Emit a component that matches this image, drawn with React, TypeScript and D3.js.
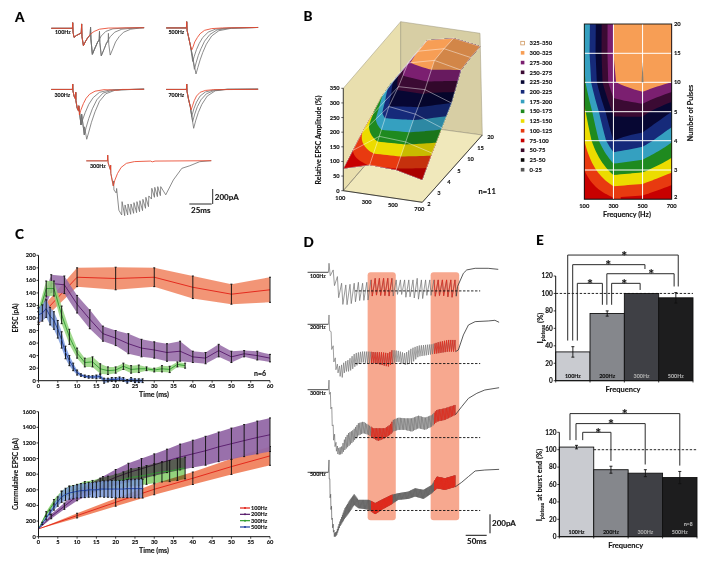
import React from "react";
import * as d3 from "d3";

type P = [number, number];
const FONT = "Lato, 'Open Sans', sans-serif";

// ---------- Panel A: currents (ms, pA) ----------
const a100Base: P[] = [[-24,-8],[-0.3,-8],[0,67],[0.4,-60],[1.5,-129],[4,-105],[9.6,-70],[10,50],[10.4,-120],[12,-240]];
const a100Red: P[] = [...a100Base,[14,-190],[17,-130],[20,-85],[24,-50],[30,-20],[40,-5],[80,0]];
const a100G1: P[] = [...a100Base,[14,-190],[17,-130],[19.6,-100],[20,5],[20.4,-150],[22,-355]];
const a100G1End: P[] = [[25,-270],[28,-190],[32,-110],[37,-50],[45,-15],[60,-3],[80,0]];
const a100G2End: P[] = [[25,-270],[28,-190],[29.6,-170],[30,-50],[30.4,-200],[32,-375]];
const a100G2Tail: P[] = [[35,-290],[38,-200],[42,-120],[47,-60],[55,-20],[70,-3],[80,0]];
const a100G3End: P[] = [[35,-290],[38,-200],[39.6,-190],[40,-75],[40.4,-220],[42,-365],[45,-280],[48,-190],[52,-120],[57,-60],[65,-20],[75,-5],[80,0]];
const a100Traces: P[][] = [
  [...a100G1,...a100G2End,...a100G3End],
  [...a100G1,...a100G2End,...a100G2Tail],
  [...a100G1,...a100G1End],
];

const a500Base: P[] = [[-23,-3],[-0.3,-3],[0,80],[0.5,-40],[2,-120],[4,-230]];
const a500Traces: P[][] = [
  [...a500Base,[6,-350],[10.4,-617],[12.5,-530],[15,-430],[18,-330],[22,-220],[28,-110],[36,-40],[50,-8],[80,3]],
  [...a500Base,[6,-350],[8.6,-555],[10.5,-470],[13,-370],[16,-280],[20,-180],[26,-90],[34,-30],[48,-5],[80,3]],
  [...a500Base,[6.7,-450],[8.5,-380],[11,-290],[14,-210],[18,-130],[24,-60],[32,-20],[45,-5],[80,3]],
];
const a500Red: P[] = [...a500Base,[5.6,-297],[7,-260],[9,-190],[12,-130],[15,-80],[20,-35],[28,-12],[40,-3],[80,3]];

const a300Base: P[] = [[-24,-2],[-0.3,-2],[0,70],[0.3,-20],[1.5,-90],[3.2,-130],[3.4,-40],[3.6,-150],[5,-250],[6.6,-290],[6.8,-220]];
const a300Traces: P[][] = [
  [...a300Base,[9.3,-475],[9.9,-400],[10,-330],[13,-608],[13.2,-500],[15.7,-666],[18,-570],[21,-440],[25,-300],[30,-160],[37,-60],[48,-10],[80,3]],
  [...a300Base,[9.3,-475],[9.9,-400],[10,-330],[13,-608],[15,-510],[18,-390],[22,-260],[27,-140],[34,-50],[46,-8],[80,2]],
  [...a300Base,[9.3,-475],[11,-410],[14,-310],[18,-200],[23,-110],[30,-40],[42,-8],[80,2]],
];
const a300Red: P[] = [...a300Base,[7.5,-342],[9,-280],[12,-190],[15,-120],[19,-65],[25,-25],[35,-5],[50,-12],[55,-2],[80,0]];

const a700Base: P[] = [[-23,-2],[-0.3,-2],[0,70],[0.4,-30],[2,-130],[4,-230]];
const a700Traces: P[][] = [
  [...a700Base,[7.8,-520],[10,-420],[13,-310],[17,-200],[23,-90],[32,-20],[46,0],[80,2]],
  [...a700Base,[6.7,-430],[9,-330],[12,-230],[16,-140],[22,-60],[31,-15],[45,0],[80,2]],
  [...a700Base,[5.6,-364],[8,-260],[11,-170],[15,-90],[21,-35],[30,-10],[45,0],[80,2]],
];
const a700Red: P[] = [...a700Base,[4.9,-275],[6.5,-220],[8.5,-150],[11,-90],[15,-40],[21,-15],[30,-5],[80,0]];

const longLead: P[] = [[-24,-2],[-0.3,-2],[0,75],[0.5,-30],[3,-120],[3.3,-60],[3.5,-170],[6.3,-337],[6.6,-270],[7,-390],[9.5,-430],[10,-370],[12.5,-660]];
const longTops = [-546,-590,-577,-577,-559,-546,-533,-515,-488,-470,-368,-355,-346,-346];
const longTroughs = [-724,-733,-724,-715,-702,-693,-680,-666,-635,-613,-511,-488,-479,-466];
const longTail: P[] = [[65,-455],[73.5,-257],[83,-102],[92,-67],[103,-13],[116,0]];
const longRed: P[] = [[-24,-2],[-0.3,-2],[0,75],[0.5,-30],[3,-120],[3.3,-60],[3.5,-170],[6.3,-337],[8,-260],[11,-170],[15,-90],[21,-35],[30,-12],[48,-5],[50,-15],[53,-5],[116,0]];

// ---------- Panel B ----------
const surfaceFreqs = [100, 300, 500, 700];
const surfacePulses = [2, 3, 4, 5, 10, 15, 20];
const ampRow2 = [75, 101, 97, 76];
const ampRow3 = [100, 161, 155, 130];
const ampRow4 = [125, 225, 212, 178];
const ampRow5 = [145, 255, 258, 225];
const ampRow10 = [170, 298, 320, 300];
const ampRow15 = [178, 300, 322, 305];
const ampRow20 = [176, 300, 320, 305];
const ampRows = [ampRow2, ampRow3, ampRow4, ampRow5, ampRow10, ampRow15, ampRow20];
const bandLabels = ["325-350","300-325","275-300","250-275","225-250","200-225","175-200","150-175","125-150","100-125","75-100","50-75","25-50","0-25"];
const bandColors = ["#ffffff","#f79e55","#7b1f70","#3b0a33","#070733","#162a7a","#35a0c0","#1f8a1f","#ecdc00","#e83a10","#c80000","#3a0a2a","#0a0a0a","#555555"];

// ---------- Panel C ----------
const t100 = [0,10,20,30,40,50,60];
const t200 = [0,3.3,6.7,10,13.3,16.7,20,23.3,26.7,30,33.3,36.7,40,43.3,46.7,50,53.3,56.7,60];
const t300 = [0,2,4,6,8,10,12,14,16,18,20,22,24,26,28,30,32,34,36,38];
const t500 = [0,1,2,3,4,5,6,7,8,9,10,11,12,13,14,15,16,17,18,19,20,21,22,23,24,25,26,27];
const epsc100 = [100,165,163,165,149,138,145];
const epsc100Err = [10,15,18,15,18,16,20];
const epsc200 = [100,155,153,122,98,75,68,59,52,49,45,47,38,36,48,38,43,40,36];
const epsc200Err = [10,14,14,14,15,12,12,16,14,13,14,16,9,9,10,9,5,7,6];
const epsc300 = [105,147,147,105,70,44,29,30,19,16,17,23,18,19,19,17,19,18,26,24];
const epsc300Err = [10,12,12,14,12,8,7,8,8,6,5,5,6,6,3,3,5,5,4,4];
const epsc500 = [105,108,115,103,96,82,65,45,32,22,13,9,7,6,6,6,7,0,1,2,2,3,2,-1,2,0,0,0];
const epsc500Err = [12,13,14,14,14,14,13,10,8,6,4,2,2,2,2,3,3,4,3,3,3,3,3,3,3,3,3,3];
const cum100 = [100,270,440,607,748,897,1034];
const cum100Err = [0,30,50,70,80,100,120];
const cum200 = [100,260,390,520,610,690,760,820,870,920,970,1020,1060,1100,1150,1190,1230,1270,1305];
const cum200Err = [0,30,40,60,70,80,100,120,130,140,150,165,175,185,190,200,205,210,215];
const cum300 = [100,290,430,530,590,610,640,650,670,690,710,730,760,770,790,810,830,840,860,880];
const cum300Err = [0,30,45,55,60,60,65,70,80,85,90,100,110,115,120,125,130,135,140,140];
const cum500 = [100,170,240,310,380,450,510,540,560,570,580,590,590,600,600,600,610,610,610,610,610,610,610,615,615,615,615,615];
const cum500Err = [0,15,25,30,40,60,70,80,80,85,85,90,90,95,95,100,100,105,105,110,110,110,110,115,115,120,120,120];
const seriesNames = ["100Hz","200Hz","300Hz","500Hz"];
const lineColors = ["#e21f14","#571a6b","#2f9e2f","#1f3fa0"];
const bandFills = ["#f0825e","#9468a6","#93d37c","#7c9bdc"];

// ---------- Panel D (ms, pA relative to baseline) ----------
const d100Knots = d3.range(0, 301, 10);
const d100Tops = [95,25,-45,-115,-133,-126,-115,-105,-115,-105,-80,-63,-63,-63,-63,-63,-80,-80,-80,-80,-80,-63,-80,-80,-80,-80,-80,-80,-80,-80,-80];
const d100Troughs = [-10,-98,-238,-336,-343,-336,-315,-301,-290,-308,-255,-238,-245,-245,-248,-255,-238,-220,-266,-255,-266,-280,-290,-245,-238,-255,-245,-245,-255,-266,-255];
const d100Tail: P[] = [[306,-150],[320,-10],[328,25],[348,42],[379,42],[403,31]];
const d200Knots = [0,6,14,22,30,38,46,54,62,78,94,110,125,141,151,165,181,197,213,229,245,260,284,300];
const d200Tops = [98,-112,-340,-445,-427,-392,-375,-340,-305,-287,-287,-294,-294,-305,-270,-280,-305,-252,-224,-217,-210,-189,-165,-165];
const d200Troughs = [-7,-252,-462,-515,-574,-497,-497,-480,-445,-399,-410,-410,-427,-445,-410,-392,-427,-410,-340,-329,-315,-305,-287,-287];
const d200Tail: P[] = [[308,-270],[320,-112],[332,-7],[348,28],[379,35],[395,42],[405,21]];
const d300Knots = [0,5,10,16,22,30,38,46,58,70,82,94,105,117,133,145,153,165,181,197,213,229,245,257,276,300];
const d300Tops = [101,-91,-371,-546,-616,-598,-511,-458,-423,-353,-336,-371,-406,-406,-406,-371,-318,-294,-301,-301,-273,-294,-266,-213,-196,-161];
const d300Troughs = [-3,-231,-511,-633,-686,-679,-633,-598,-546,-483,-458,-476,-511,-539,-511,-476,-441,-423,-423,-441,-406,-423,-388,-336,-318,-266];
const d300Tail: P[] = [[316,-178],[332,-91],[352,-38],[371,-3],[405,21]];
const d500Knots = [0,3,8,13,18,26,38,50,60,70,82,95,110,125,149,165,189,205,225,245,257,276,303];
const d500Tops = [130,-168,-483,-640,-623,-518,-378,-290,-231,-290,-290,-290,-325,-290,-238,-220,-203,-168,-185,-133,-45,-63,-28];
const d500Troughs = [-10,-308,-570,-686,-665,-570,-483,-413,-343,-378,-385,-395,-441,-395,-336,-290,-280,-255,-280,-220,-168,-185,-150];
const d500Tail: P[] = [[316,-105],[332,-45],[348,14],[371,24],[405,31]];
const dWindows: P[] = [[92,159],[242,310]];
const redWindows: P[] = [[100,151],[250,302]];
const dDashLevels = [-196,-413,-504,-402];
const dFreqs = [100,200,300,500];

// ---------- Panel E ----------
const plateauVals = [33,77,100,95];
const plateauErr = [6,3,0,6];
const burstEndVals = [103,77,73,68];
const burstEndErr = [2,4,4,7];
const barFills = ["#c9cbd0","#85878c","#3f4045","#1d1d1e"];
const barText = ["#111","#111","#aaa","#aaa"];
type Bk = { l:number; r:number; top:number; ld:number; rd:number; star:number };
const plateauBrackets: Bk[] = [
  {l:.35,r:3.57,top:144,ld:46,rd:108,star:2},
  {l:.495,r:2.6,top:133,ld:46,rd:128,star:1.53},
  {l:1.49,r:3.45,top:122.6,ld:87,rd:108,star:2.78},
  {l:.63,r:1.36,top:111.6,ld:46,rd:87,star:1},
  {l:1.63,r:2.46,top:111.6,ld:87,rd:104,star:2},
];
const burstBrackets: Bk[] = [
  {l:.31,r:3.5,top:141.5,ld:111,rd:81.7,star:1.9},
  {l:.485,r:2.495,top:130,ld:111,rd:83,star:1.5},
  {l:.68,r:1.5,top:120,ld:111,rd:87,star:1.13},
];

// ---------- helpers ----------
const T = (p: any) => <text fontFamily={FONT} fontWeight={700} fill="#111" stroke={p.fill || "#111"} strokeWidth={0.12} {...p} />;
const linePath = d3.line<P>();

function TracePanel({x0,y0,grays,red,label,lx,ly}:{x0:number;y0:number;grays:P[][];red:P[];label:string;lx:number;ly:number}) {
  const x = d3.scaleLinear().domain([0,100]).range([x0,x0+89.3]);
  const y = d3.scaleLinear().domain([0,200]).range([y0,y0-15]);
  const path = (d:P[]) => linePath(d.map(([t,i]) => [x(t),y(i)] as P)) as string;
  return <g fill="none">
    {grays.map((g,i)=><path key={i} d={path(g)} stroke="#6e6e6e" strokeWidth={0.8}/>)}
    <path d={path(red)} stroke="#e8452a" strokeWidth={0.85}/>
    <T x={lx} y={ly} fontSize={5.3}>{label}</T>
  </g>;
}

function YAxis({scale,ticks,x,fs=5.7,len=2}:{scale:any;ticks:number[];x:number;fs?:number;len?:number}) {
  const [a,b]=scale.range();
  return <g>
    <line x1={x} x2={x} y1={a} y2={b} stroke="#111" strokeWidth={1}/>
    {ticks.map(t=><g key={t}>
      <line x1={x-len} x2={x} y1={scale(t)} y2={scale(t)} stroke="#111" strokeWidth={0.8}/>
      <T x={x-len-0.8} y={scale(t)+fs*0.35} fontSize={fs} textAnchor="end">{t}</T>
    </g>)}
  </g>;
}
function XAxis({scale,ticks,y,fs=5.7,len=2}:{scale:any;ticks:number[];y:number;fs?:number;len?:number}) {
  const [a,b]=scale.range();
  return <g>
    <line x1={a} x2={b} y1={y} y2={y} stroke="#111" strokeWidth={1}/>
    {ticks.map(t=><g key={t}>
      <line y1={y} y2={y+len} x1={scale(t)} x2={scale(t)} stroke="#111" strokeWidth={0.8}/>
      <T x={scale(t)} y={y+len+fs*0.85} fontSize={fs} textAnchor="middle">{t}</T>
    </g>)}
  </g>;
}

function Series({x,y,t,m,e,i,blend,op=0.9}:{x:any;y:any;t:number[];m:number[];e:number[];i:number;blend?:boolean;op?:number}) {
  const idx = d3.range(t.length);
  const area = d3.area<number>().x(k=>x(t[k])).y0(k=>y(m[k]-e[k])).y1(k=>y(m[k]+e[k]));
  const line = d3.line<number>().x(k=>x(t[k])).y(k=>y(m[k]));
  return <g>
    <path d={area(idx) as string} fill={bandFills[i]} fillOpacity={op} style={blend?{mixBlendMode:"multiply"}:undefined}/>
    <path d={line(idx) as string} fill="none" stroke={lineColors[i]} strokeWidth={0.9}/>
    {idx.map(k=> e[k]>0 ? <g key={k} stroke="#111" strokeWidth={0.95}>
      <line x1={x(t[k])} x2={x(t[k])} y1={y(m[k]-e[k])} y2={y(m[k]+e[k])}/>
      <line x1={x(t[k])-1} x2={x(t[k])+1} y1={y(m[k]-e[k])} y2={y(m[k]-e[k])}/>
      <line x1={x(t[k])-1} x2={x(t[k])+1} y1={y(m[k]+e[k])} y2={y(m[k]+e[k])}/>
    </g> : null)}
    {i===3 ? idx.map(k=><circle key={k} cx={x(t[k])} cy={y(m[k])} r={0.6} fill={lineColors[i]}/>) : null}
  </g>;
}

function PanelB() {
  const amp = (fi:number, rj:number) => {
    const i=Math.min(Math.floor(fi),2), j=Math.min(Math.floor(rj),5);
    const u=fi-i, v=rj-j;
    return d3.interpolateNumber(
      d3.interpolateNumber(ampRows[j][i],ampRows[j][i+1])(u),
      d3.interpolateNumber(ampRows[j+1][i],ampRows[j+1][i+1])(u))(v);
  };
  const colorOf = (a:number) => bandColors[Math.max(0,Math.min(13,13-Math.floor(a/25)))];
  const FL:P=[343.3,190.7],FR:P=[422.3,202.3],BL:P=[400.7,124],BR:P=[482.3,135];
  const TFL:P=[343.3,88.3],TFR:P=[422.3,100],TBL:P=[400.7,21.7],TBR:P=[480,33.3];
  const mix=(a:P,b:P,t:number):P=>[a[0]+(b[0]-a[0])*t,a[1]+(b[1]-a[1])*t];
  const proj=(fi:number,rj:number,a:number):P=>{
    const u=fi/3,v=rj/6,w=a/350;
    const fl=mix(mix(FL,FR,u),mix(BL,BR,u),v);
    const tp=mix(mix(TFL,TFR,u),mix(TBL,TBR,u),v);
    return mix(fl,tp,w);
  };
  const poly=(pts:P[])=>pts.map(p=>p[0].toFixed(2)+","+p[1].toFixed(2)).join(" ");
  const ampTicks=d3.range(0,351,50);
  const yAmp=(a:number)=>proj(0,0,a)[1];

  const SUB=8, nx=3*SUB+1, ny=6*SUB+1;
  const vals:number[]=[];
  for(let j=0;j<ny;j++) for(let i=0;i<nx;i++) vals.push(amp(i/SUB,j/SUB));
  const levels=d3.range(0,350,25);
  const contours=d3.contours().size([nx,ny]).thresholds(levels)(vals);
  const xC=d3.scaleLinear().domain([0,3]).range([584.3,671.7]);
  const yC=d3.scaleLinear().domain(d3.range(7)).range([197,170,140.7,111.7,82.3,53.3,24]);
  const xFreq=d3.scalePoint<number>().domain(surfaceFreqs).range([584.3,671.7]);
  const cPath=(c:any)=>c.coordinates.map((pg:number[][][])=>pg.map(r=>"M"+r.map(p=>xC((p[0]-.5)/SUB).toFixed(2)+","+yC((p[1]-.5)/SUB).toFixed(2)).join("L")+"Z").join("")).join("");
  const clamp=(v:number,hi:number)=>Math.max(0,Math.min(hi,v));
  const surfPath=(c:any)=>c.coordinates.map((pg:number[][][])=>pg.map(r=>"M"+r.map(p=>{
    const fi=clamp((p[0]-.5)/SUB,3), rj=clamp((p[1]-.5)/SUB,6);
    const q=proj(fi,rj,amp(fi,rj));
    return q[0].toFixed(2)+","+q[1].toFixed(2);
  }).join("L")+"Z").join("")).join("");
  const rowSteps=d3.range(0,6.001,1/SUB);
  const shadePts:P[]=[...rowSteps.map(r=>proj(2,r,amp(2,r))),...rowSteps.slice().reverse().map(r=>proj(3,r,amp(3,r)))];

  return <g>
    <polygon points={poly([FL,BL,TBL,TFL])} fill="#e9dfae" stroke="#9a947a" strokeWidth={0.5}/>
    <polygon points={poly([BL,BR,TBR,TBL])} fill="#d7cea4" stroke="#9a947a" strokeWidth={0.5}/>
    <polygon points={poly([FL,FR,BR,BL])} fill="#f0e8bb" stroke="#8a8570" strokeWidth={0.5}/>
    <line x1={FL[0]} x2={BL[0]} y1={FL[1]} y2={BL[1]} stroke="#8a8570" strokeWidth={0.6}/>
    {contours.map(c=><path key={c.value} d={surfPath(c)} fill={colorOf(c.value+1)} fillRule="evenodd"/>)}
    <polygon points={poly(shadePts)} fill="#000" fillOpacity={0.15}/>
    <g fill="none" stroke="#fff" strokeOpacity={0.8} strokeWidth={0.55}>
      {ampRows.map((_,j)=><polyline key={j} points={poly(surfaceFreqs.map((_f,i)=>proj(i,j,ampRows[j][i])))}/>)}
      {surfaceFreqs.map((_f,i)=><polyline key={i} points={poly(ampRows.map((r,j)=>proj(i,j,r[i])))}/>)}
    </g>
    <line x1={FL[0]} x2={TFL[0]} y1={FL[1]} y2={TFL[1]} stroke="#222" strokeWidth={0.8}/>
    {ampTicks.map(t=><g key={t}>
      <line x1={FL[0]-2} x2={FL[0]} y1={yAmp(t)} y2={yAmp(t)} stroke="#222" strokeWidth={0.7}/>
      <T x={339.6} y={yAmp(t)+2} fontSize={5.7} textAnchor="end">{t}</T>
    </g>)}
    <line x1={FL[0]} x2={FR[0]} y1={FL[1]} y2={FR[1]} stroke="#222" strokeWidth={0.8}/>
    <line x1={FR[0]} x2={BR[0]} y1={FR[1]} y2={BR[1]} stroke="#222" strokeWidth={0.8}/>
    {surfaceFreqs.map((f,i)=>{const p=proj(i,0,0);return <T key={f} x={p[0]-3} y={p[1]+9} fontSize={5.7} textAnchor="middle">{f}</T>;})}
    {surfacePulses.map((f,j)=>{const p=proj(3,j,0);return <T key={f} x={p[0]+5} y={p[1]+4} fontSize={5.7} textAnchor="start">{f}</T>;})}
    <T transform="translate(321,140) rotate(-90)" fontSize={7} textAnchor="middle">Relative EPSC Amplitude (%)</T>
    <T x={478.5} y={194} fontSize={7.5}>n=11</T>
    {bandLabels.map((l,i)=><g key={l}>
      <rect x={520.8} y={41.3+9.74*i} width={3.6} height={3.6} fill={bandColors[i]} stroke={i===0?"#c98a4a":"none"} strokeWidth={0.7}/>
      <T x={529.5} y={45.3+9.74*i} fontSize={5.9}>{l}</T>
    </g>)}
    <clipPath id="cClip"><rect x={584.3} y={24} width={87.4} height={175.3}/></clipPath>
    <g clipPath="url(#cClip)">
      <rect x={584.3} y={24} width={87.4} height={175.3} fill="#c80000"/>
      {contours.map(c=><path key={c.value} d={cPath(c)} fill={colorOf(c.value+1)} fillRule="evenodd"/>)}
      <g stroke="#fff" strokeWidth={1}>
        {[1,2,3,4,5].map(j=><line key={j} x1={584.3} x2={671.7} y1={yC(j)} y2={yC(j)}/>)}
        {[300,500].map(f=><line key={f} y1={24} y2={199.3} x1={xFreq(f)} x2={xFreq(f)}/>)}
      </g>
      <polygon points={poly([[xC(2)-1,yC(4)],[xC(2),yC(4.7)],[xC(2)+1,yC(4)]])} fill="#8a7f70"/>
    </g>
    <rect x={584.3} y={24} width={87.4} height={175.3} fill="none" stroke="#111" strokeWidth={0.9}/>
    {surfaceFreqs.map(f=><T key={f} x={xFreq(f)} y={208} fontSize={5.8} textAnchor="middle">{f}</T>)}
    {surfacePulses.map((p,j)=><T key={p} x={674} y={yC(j)+2} fontSize={5.8}>{p}</T>)}
    <T x={627} y={216.5} fontSize={7.2} textAnchor="middle">Frequency (Hz)</T>
    <T transform="translate(693,113) rotate(-90)" fontSize={7.2} textAnchor="middle">Number of Pulses</T>
  </g>;
}

function PanelC() {
  const x=d3.scaleLinear().domain([0,60]).range([38.5,270]);
  const yTop=d3.scaleLinear().domain([0,200]).range([380.7,255.3]);
  const yBot=d3.scaleLinear().domain([0,1600]).range([536.7,411.7]);
  const xt=d3.range(0,61,5);
  const ts=[t100,t200,t300,t500];
  const tops=[[epsc100,epsc100Err],[epsc200,epsc200Err],[epsc300,epsc300Err],[epsc500,epsc500Err]];
  const bots=[[cum100,cum100Err],[cum200,cum200Err],[cum300,cum300Err],[cum500,cum500Err]];
  return <g>
    {tops.map((s,i)=><Series key={i} x={x} y={yTop} t={ts[i]} m={s[0]} e={s[1]} i={i} op={0.85}/>)}
    <YAxis scale={yTop} ticks={d3.range(0,201,20)} x={38.5}/>
    <XAxis scale={x} ticks={xt} y={380.7}/>
    <T transform="translate(18,318) rotate(-90)" fontSize={6.5} textAnchor="middle">EPSC (pA)</T>
    <T x={154} y={397} fontSize={7} textAnchor="middle">Time (ms)</T>
    <T x={254} y={375.5} fontSize={7}>n=6</T>
    <g style={{isolation:"isolate"}}>
      {bots.map((s,i)=><Series key={i} x={x} y={yBot} t={ts[i]} m={s[0]} e={s[1]} i={i} blend={i===2} op={i===2?1:i===3?0.85:0.95}/>)}
    </g>
    <YAxis scale={yBot} ticks={d3.range(0,1601,200)} x={38.5}/>
    <XAxis scale={x} ticks={xt} y={536.7}/>
    <T transform="translate(18,474) rotate(-90)" fontSize={6.8} textAnchor="middle">Cummulative EPSC (pA)</T>
    <T x={154} y={553} fontSize={7} textAnchor="middle">Time (ms)</T>
    {seriesNames.map((n,i)=><g key={n}>
      <line x1={240} x2={250} y1={508+6.33*i} y2={508+6.33*i} stroke={lineColors[i]} strokeWidth={1.2}/>
      <circle cx={245} cy={508+6.33*i} r={1} fill={lineColors[i]}/>
      <T x={251} y={510+6.33*i} fontSize={5.5}>{n}</T>
    </g>)}
  </g>;
}

function Burst({i,knots,tops,troughs,tail,base,color}:{i:number;knots:number[];tops:number[];troughs:number[];tail:P[];base:number;color:string}) {
  const x=d3.scaleLinear().domain([0,100]).range([329,371]);
  const y=d3.scaleLinear().domain([0,200]).range([base,base-19]);
  const topAt=d3.scaleLinear().domain(knots).range(tops);
  const lowAt=d3.scaleLinear().domain(knots).range(troughs);
  const period=1000/dFreqs[i];
  const pts:P[]=[[-1.5,0]];
  d3.range(0,300.01,period).forEach(t=>{pts.push([t,topAt(t)]);pts.push([t+period*.3,lowAt(t+period*.3)]);});
  const path=linePath(pts.map(([t,v])=>[x(t),y(v)] as P)) as string;
  const lastLow=pts[pts.length-1];
  const lead:P[]=[[-51,0],[-1.5,0]];
  const tailPts:P[]=[lastLow,...tail];
  const px=(d:P[])=>linePath(d.map(([t,v])=>[x(t),y(v)] as P)) as string;
  return <g fill="none" strokeLinejoin="round">
    <path d={path} stroke={color} strokeWidth={0.7}/>
    <path d={path} stroke="#e8281a" strokeWidth={0.75} clipPath="url(#redClip)"/>
    <path d={px(lead)} stroke="#333" strokeWidth={0.9}/>
    <path d={px(tailPts)} stroke="#3c3c3c" strokeWidth={0.85}/>
    <line x1={x(62)} x2={x(360)} y1={y(dDashLevels[i])} y2={y(dDashLevels[i])} stroke="#111" strokeWidth={0.9} strokeDasharray="2.4 1.6"/>
  </g>;
}

function PanelD() {
  const x=d3.scaleLinear().domain([0,100]).range([329,371]);
  return <g>
    <defs><clipPath id="redClip">{redWindows.map((w,i)=><rect key={i} x={x(w[0])} y={225} width={x(w[1])-x(w[0])} height={330}/>)}</clipPath></defs>
    {dWindows.map((w,i)=><rect key={i} x={x(w[0])} y={272.3} width={x(w[1])-x(w[0])} height={248} rx={3} fill="#f7a88f"/>)}
    <Burst i={0} knots={d100Knots} tops={d100Tops} troughs={d100Troughs} tail={d100Tail} base={272.3} color="#6e6e6e"/>
    <Burst i={1} knots={d200Knots} tops={d200Tops} troughs={d200Troughs} tail={d200Tail} base={324.3} color="#777"/>
    <Burst i={2} knots={d300Knots} tops={d300Tops} troughs={d300Troughs} tail={d300Tail} base={389.7} color="#707070"/>
    <Burst i={3} knots={d500Knots} tops={d500Tops} troughs={d500Troughs} tail={d500Tail} base={472.3} color="#5c5c5c"/>
    {seriesNames.map((n,i)=><T key={n} x={310} y={[278,329.3,395,476][i]} fontSize={5.3}>{n}</T>)}
    <line x1={490} x2={490} y1={514.3} y2={533.3} stroke="#111" strokeWidth={1}/>
    <line x1={465.7} x2={486.7} y1={535.3} y2={535.3} stroke="#111" strokeWidth={1}/>
    <T x={492} y={526} fontSize={8}>200pA</T>
    <T x={467} y={543.5} fontSize={8}>50ms</T>
  </g>;
}

function Bars({x0,x1,y0,y1,vals,errs,brackets,dashFrom,ylabel,ylx,yly,fx,fy,axisX}:{x0:number;x1:number;y0:number;y1:number;vals:number[];errs:number[];brackets:Bk[];dashFrom:number;ylabel:string;ylx:number;yly:number;fx:number;fy:number;axisX:number}) {
  const band=d3.scaleBand<string>().domain(seriesNames).range([x0,x1]);
  const y=d3.scaleLinear().domain([0,120]).range([y0,y1]);
  const u=d3.scaleLinear().domain([0,4]).range([x0,x1]);
  return <g>
    {vals.map((v,i)=>{const n=seriesNames[i];const bx=band(n) as number;const c=bx+band.bandwidth()/2;return <g key={n}>
      <rect x={bx} y={y(v)} width={band.bandwidth()} height={y0-y(v)} fill={barFills[i]} stroke="#111" strokeWidth={0.9}/>
      {errs[i]>0?<g stroke="#111" strokeWidth={0.9}>
        <line x1={c} x2={c} y1={y(v-errs[i])} y2={y(v+errs[i])}/>
        <line x1={c-1.5} x2={c+1.5} y1={y(v-errs[i])} y2={y(v-errs[i])}/>
        <line x1={c-1.5} x2={c+1.5} y1={y(v+errs[i])} y2={y(v+errs[i])}/>
      </g>:null}
      <T x={c} y={y0-3} fontSize={5.4} textAnchor="middle" fill={barText[i]}>{n}</T>
    </g>;})}
    <line x1={u(dashFrom)} x2={x1} y1={y(100)} y2={y(100)} stroke="#111" strokeWidth={0.9} strokeDasharray="2.4 1.6"/>
    {brackets.map((b,i)=><g key={i}>
      <polyline points={`${u(b.l)},${y(b.ld)} ${u(b.l)},${y(b.top)} ${u(b.r)},${y(b.top)} ${u(b.r)},${y(b.rd)}`} fill="none" stroke="#2a2a2a" strokeWidth={1}/>
      <T x={u(b.star)} y={y(b.top)+5.5} fontSize={14} textAnchor="middle">*</T>
    </g>)}
    <YAxis scale={y} ticks={d3.range(0,121,20)} x={axisX} fs={6.5}/>
    <line x1={x0} x2={x1} y1={y0} y2={y0} stroke="#111" strokeWidth={1}/>
    {d3.range(5).map(i=><line key={i} x1={u(i)} x2={u(i)} y1={y0} y2={y0+1.8} stroke="#111" strokeWidth={0.8}/>)}
    <T x={fx} y={fy} fontSize={7.5} textAnchor="middle">Frequency</T>
    <T transform={`translate(${ylx},${yly}) rotate(-90)`} fontSize={7.5} textAnchor="middle">
      I<tspan fontSize={5} dy={1.5}>plateau</tspan><tspan dy={-1.5}>{ylabel}</tspan>
    </T>
  </g>;
}

export default function App() {
  const long: P[] = [...longLead];
  longTops.forEach((v,i)=>{ long.push([15.7+3.33*i,longTroughs[i]]); long.push([16.1+3.33*i,v]); });
  long.push(...longTail);
  return (
    <svg width={707} height={568} viewBox="0 0 707 568" style={{position:"absolute",left:0,top:0,background:"#fff"}}>
      <defs>
        <filter id="soft" x="0" y="0" width="707" height="568" filterUnits="userSpaceOnUse" colorInterpolationFilters="sRGB">
          <feGaussianBlur stdDeviation={0.35}/>
        </filter>
      </defs>
      <rect width={707} height={568} fill="#fff"/>
      <g filter="url(#soft)">
        <T x={15} y={21.5} fontSize={13.5} fill="#000" fontWeight={900}>A</T>
        <T x={303.5} y={21} fontSize={13.5} fill="#000" fontWeight={900}>B</T>
        <T x={15} y={239} fontSize={13.5} fill="#000" fontWeight={900}>C</T>
        <T x={303.5} y={246.5} fontSize={13.5} fill="#000" fontWeight={900}>D</T>
        <T x={536} y={245} fontSize={13.5} fill="#000" fontWeight={900}>E</T>

        <TracePanel x0={72.7} y0={27.7} grays={a100Traces} red={a100Red} label="100Hz" lx={55} ly={34}/>
        <TracePanel x0={186.7} y0={27.7} grays={a500Traces} red={a500Red} label="500Hz" lx={168.5} ly={34}/>
        <TracePanel x0={72.7} y0={89.3} grays={a300Traces} red={a300Red} label="300Hz" lx={54.5} ly={96.5}/>
        <TracePanel x0={186.7} y0={89.3} grays={a700Traces} red={a700Red} label="700Hz" lx={168.5} ly={96.5}/>
        <TracePanel x0={107.7} y0={160.7} grays={[long]} red={longRed} label="300Hz" lx={90} ly={167.5}/>
        <line x1={212.7} x2={212.7} y1={189} y2={204} stroke="#111" strokeWidth={0.9}/>
        <line x1={189.3} x2={211.7} y1={204} y2={204} stroke="#111" strokeWidth={0.9}/>
        <T x={214.8} y={199.5} fontSize={8}>200pA</T>
        <T x={191} y={212.5} fontSize={8}>25ms</T>

        <PanelB/>
        <PanelC/>
        <PanelD/>

        <Bars x0={555.7} x1={693} y0={380.7} y1={276} vals={plateauVals} errs={plateauErr} brackets={plateauBrackets} dashFrom={0} ylabel=" (%)" ylx={543} yly={328} fx={623} fy={391.5} axisX={555.7}/>
        <Bars x0={559.3} x1={697} y0={536.7} y1={432.3} vals={burstEndVals} errs={burstEndErr} brackets={burstBrackets} dashFrom={1} ylabel=" at burst end (%)" ylx={542} yly={485} fx={625.7} fy={547.5} axisX={559.3}/>
        <T x={684} y={526} fontSize={5} fill="#bbb">n=8</T>
      </g>
    </svg>
  );
}
